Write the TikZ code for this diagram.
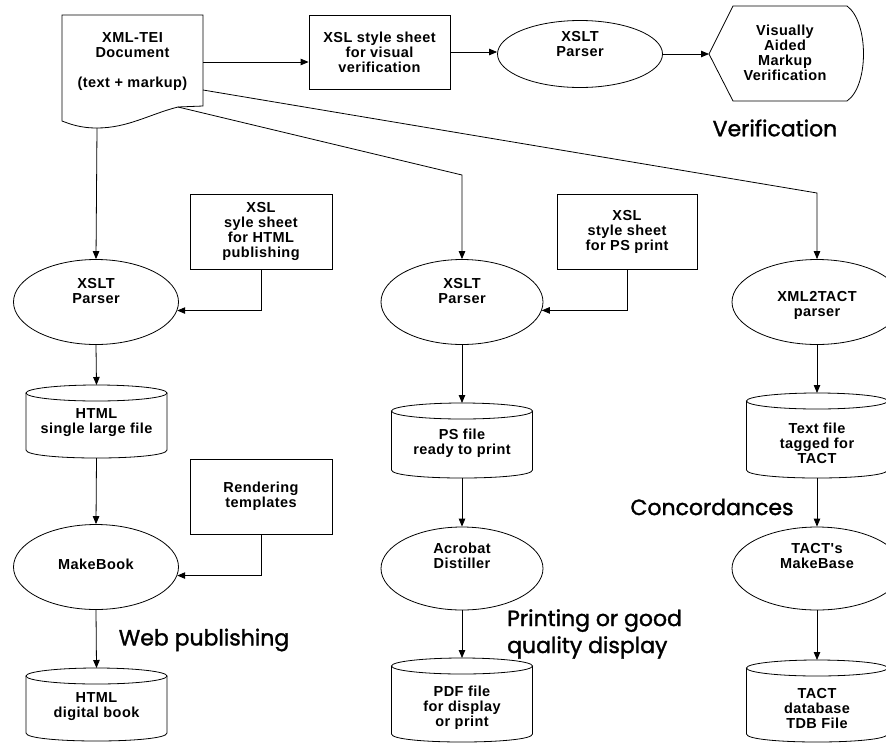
\documentclass[tikz,border=0pt]{standalone}
\usepackage{fontspec}
\newfontfamily\nodefont[LetterSpace=3]{Liberation Sans}
\newfontfamily\comicfont[FakeBold=1.5]{Poppins}
\usetikzlibrary{arrows.meta,shapes.geometric}
\tikzset{
  line/.style={line width=0.8pt, draw=black},
  arr/.style={line, -{Triangle[length=8pt,width=6.5pt]}},
  txt/.style={font=\nodefont\bfseries\fontsize{14.5}{15}\selectfont, align=center, inner sep=0pt},
  comic/.style={font=\comicfont\fontsize{22}{27}\selectfont, inner sep=0pt},
  boxn/.style={line, rectangle, inner sep=0pt, font=\nodefont\bfseries\fontsize{14.5}{15}\selectfont, align=center},
  elln/.style={line, ellipse, inner sep=0pt},
  ghost/.style={inner sep=0pt, outer sep=0pt}
}
\newcommand\cylshape[4]{% cx, ytop, ybot, name
  \draw[line] (#1,#2+8) ellipse [x radius=70.5pt, y radius=8pt];
  \draw[line] (#1-70.5,#2+8) -- (#1-70.5,#3-8) .. controls (#1-70.5,#3+2.67) and (#1+70.5,#3+2.67) .. (#1+70.5,#3-8) -- (#1+70.5,#2+8);
  \node[ghost, minimum width=141pt, minimum height={(#3-#2)*1pt}] (#4) at (#1,{(#2+#3)/2}) {};
}
\begin{document}
\begin{tikzpicture}[x=1pt,y=-1pt]
\useasboundingbox (0,0) rectangle (886,742);

% --- document shape
\draw[line] (62,15) -- (203,15) -- (203,106) -- (178,107)
  .. controls (150,114) and (128,128) .. (97,128)
  .. controls (80,128) and (70,124) .. (62,121) -- cycle;
\node[ghost, minimum width=141pt, minimum height=113pt] (doc) at (132.5,71.5) {};
\node[txt] (doctxt) at (132.5,62) {XML-TEI\\Document\\[15pt](text + markup)};
\coordinate (dA) at (203,62);
\coordinate (dB) at (203,90);
\coordinate (dC) at (178,107);
\coordinate (dD) at (97,128);

% --- verification row
\node[boxn, minimum width=141pt, minimum height=74pt] (xslv) at (379.5,52) {XSL style sheet\\for visual\\verification};
\node[elln, minimum width=165pt, minimum height=67pt] (xslt0) at (580,54) {};
\node[txt] (xslt0t) at (580,44) {XSLT\\Parser};
\draw[line] (709,54) -- (733,6) -- (847,6) .. controls (869,22) and (869,86) .. (847,101) -- (733,101) -- cycle;
\node[ghost, minimum width=154pt, minimum height=95pt] (vis) at (786,54) {};
\node[txt] (vist) at (785,53) {Visually\\Aided\\Markup\\Verification};
\node[comic] (lverif) at (775,128) {Verification};

\draw[arr] (dA) -- (dA -| xslv.west);
\draw[arr] (xslv.east) -- (xslv.east -| xslt0.west);
\draw[arr] (xslt0.east) -- (vis.west);

% --- column 1
\node[elln, minimum width=165pt, minimum height=85pt] (e1) at (96,302) {};
\node[txt] (e1t) at (96,291) {XSLT\\Parser};
\node[boxn, minimum width=142pt, minimum height=75pt] (b1) at (261,231.5) {XSL\\syle sheet\\for HTML\\publishing};
\cylshape{96.5}{385}{458}{c1}
\node[txt] (c1t) at (96.5,423) {HTML\\single large file};
\node[elln, minimum width=165pt, minimum height=85pt] (e2) at (96,567) {};
\node[txt] (e2t) at (96,564) {MakeBook};
\node[boxn, minimum width=142pt, minimum height=75pt] (b2) at (261,496.5) {Rendering\\templates};
\cylshape{96.5}{668}{741}{c2}
\node[txt] (c2t) at (96.5,707) {HTML\\digital book};
\node[comic] (lweb) at (204,640) {Web publishing};

\draw[arr] (dD) -- (e1.north);
\draw[arr] (b1.south) |- (e1.-6);
\draw[arr] (e1.south) -- (c1.north);
\draw[arr] (c1.south) -- (e2.north);
\draw[arr] (b2.south) |- (e2.-6);
\draw[arr] (e2.south) -- (c2.north);

% --- column 2
\coordinate (k2) at (462,175);
\node[elln, minimum width=162pt, minimum height=85pt] (e3) at (462,302) {};
\node[txt] (e3t) at (462,291) {XSLT\\Parser};
\node[boxn, minimum width=140pt, minimum height=75pt] (b3) at (627,231.5) {XSL\\style sheet\\for PS print};
\cylshape{462}{403}{478}{c3}
\node[txt] (c3t) at (462,443) {PS file\\ready to print};
\node[elln, minimum width=162pt, minimum height=83pt] (e4) at (462,568.5) {};
\node[txt] (e4t) at (462,556) {Acrobat\\Distiller};
\cylshape{462}{658}{742}{c4}
\node[txt] (c4t) at (462,708) {PDF file\\for display\\or print};
\node[comic, anchor=west, align=left] (lprint) at (507,634) {Printing or good\\quality display};

\draw[arr] (dC) -- (k2) -- (e3.north);
\draw[arr] (b3.south) |- (e3.-6);
\draw[arr] (e3.south) -- (c3.north);
\draw[arr] (c3.south) -- (e4.north);
\draw[arr] (e4.south) -- (c4.north);

% --- column 3
\coordinate (k3) at (817,193);
\node[elln, minimum width=170pt, minimum height=85pt] (e5) at (817,302) {};
\node[txt] (e5t) at (817,305) {XML2TACT\\parser};
\cylshape{817}{393}{478}{c5}
\node[txt] (c5t) at (817,443) {Text file\\tagged for\\TACT};
\node[elln, minimum width=170pt, minimum height=83pt] (e6) at (817,568.5) {};
\node[txt] (e6t) at (817,556) {TACT's\\MakeBase};
\cylshape{817}{660}{742}{c6}
\node[txt] (c6t) at (817,708) {TACT\\database\\TDB File};
\node[comic] (lconc) at (712,507) {Concordances};

\draw[arr] (dB) -- (k3) -- (e5.north);
\draw[arr] (e5.south) -- (c5.north);
\draw[arr] (c5.south) -- (e6.north);
\draw[arr] (e6.south) -- (c6.north);
\end{tikzpicture}
\end{document}
